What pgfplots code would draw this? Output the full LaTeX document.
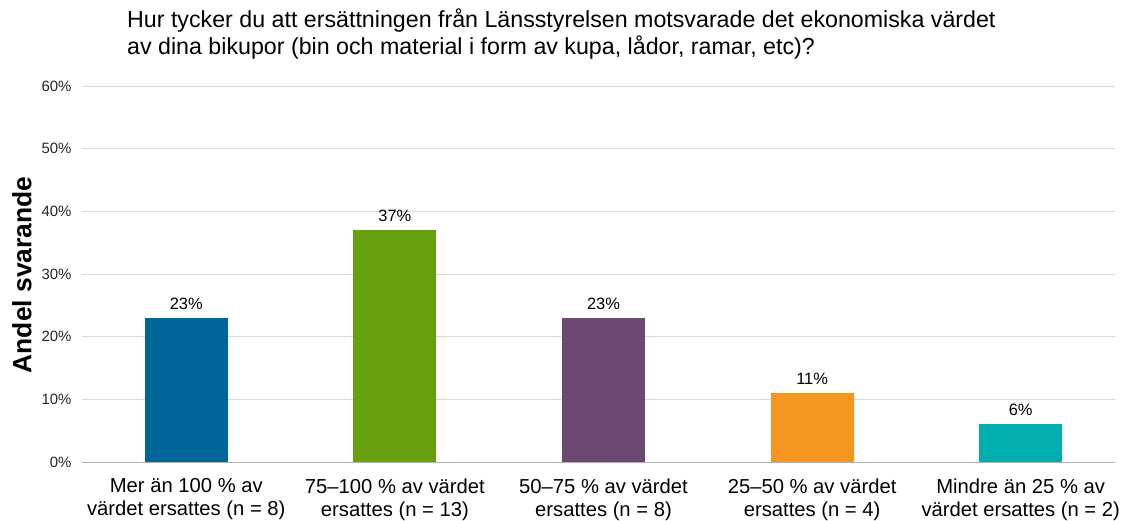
\documentclass[border=0pt]{standalone}
\usepackage{fontspec}
\setmainfont{Liberation Sans}
\usepackage{pgfplots}
\pgfplotsset{compat=1.18}
\definecolor{cblue}{RGB}{0,102,153}
\definecolor{cgreen}{RGB}{102,160,14}
\definecolor{cpurple}{RGB}{107,71,114}
\definecolor{corange}{RGB}{245,150,33}
\definecolor{cteal}{RGB}{0,174,173}
\begin{document}
\begin{tikzpicture}
\useasboundingbox (-82bp,-59bp) rectangle (1043bp,462bp);
\begin{axis}[
  at={(0,0)}, anchor=south west,
  scale only axis, width=1033bp, height=376bp,
  xmin=-0.5, xmax=4.452, ymin=0, ymax=60,
  /pgf/number format/assume math mode=true,
  xtick={0,1,2,3,4},
  xticklabels={{Mer än 100 \% av\\värdet ersattes (n = 8)},{75–100 \% av värdet\\ersattes (n = 13)},{50–75 \% av värdet\\ersattes (n = 8)},{25–50 \% av värdet\\ersattes (n = 4)},{Mindre än 25 \% av\\värdet ersattes (n = 2)}},
  xticklabel style={align=center, font=\fontsize{20.3}{23}\selectfont, yshift=-13bp},
  ytick={0,10,20,30,40,50,60},
  yticklabel={\pgfmathprintnumber{\tick}\%},
  yticklabel style={font=\fontsize{15}{17}\selectfont, text=black!85, xshift=-7bp},
  ymajorgrids, grid style={draw=black!15, line width=0.8bp},
  axis line style={draw=none}, tick style={draw=none},
  nodes near coords={\pgfmathprintnumber{\pgfplotspointmeta}\%},
  nodes near coords style={font=\fontsize{16.5}{18}\selectfont, text=black, anchor=south, yshift=5bp},
]
\addplot[ybar, bar width=83bp, bar shift=0pt, fill=cblue, draw=none] coordinates {(0,23)};
\addplot[ybar, bar width=83bp, bar shift=0pt, fill=cgreen, draw=none] coordinates {(1,37)};
\addplot[ybar, bar width=83bp, bar shift=0pt, fill=cpurple, draw=none] coordinates {(2,23)};
\addplot[ybar, bar width=83bp, bar shift=0pt, fill=corange, draw=none] coordinates {(3,11)};
\addplot[ybar, bar width=83bp, bar shift=0pt, fill=cteal, draw=none] coordinates {(4,6)};
\draw[black!30, line width=1bp] (axis cs:-0.5,0) -- (axis cs:4.452,0);
\end{axis}
\node[rotate=90, font=\bfseries\fontsize{26.5}{30}\selectfont] at (-60bp,187bp) {Andel svarande};
\node[anchor=north west, align=left, inner sep=0pt, font=\fontsize{23.3}{27}\selectfont] at (45bp,453bp) {Hur tycker du att ersättningen från Länsstyrelsen motsvarade det ekonomiska värdet\\av dina bikupor (bin och material i form av kupa, lådor, ramar, etc)?};
\end{tikzpicture}
\end{document}
